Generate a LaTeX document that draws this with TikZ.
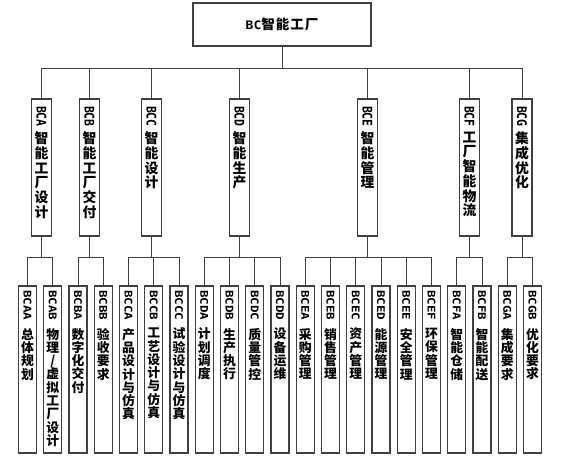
\documentclass[tikz,border=0pt]{standalone}
\usepackage{fontspec}
\usepackage{graphicx}
\newfontfamily\cjkf{Noto Sans CJK SC}
\newfontfamily\latf{DejaVu Sans Mono}
\definecolor{ln}{HTML}{404040}
\def\vcharsend{\vcharsend}
\def\vchars#1{\vcharsA#1\vcharsend}
\def\vcharsA#1{\ifx#1\vcharsend\else\hbox to\hsize{\hss#1\hss}\expandafter\vcharsA\fi}
\newcommand\vtA[2]{\parbox[c][137pt][t]{20pt}{\vspace*{7pt}%
\hbox to\hsize{\hss\rotatebox{-90}{\scalebox{1}[1.15]{\latf\bfseries\fontsize{11.5}{12}\selectfont #1}}\hss}%
\nointerlineskip\vskip 5pt\relax
\cjkf\bfseries\fontsize{13.8}{14.7}\selectfont\vchars{#2}}}
\newcommand\vtB[2]{\parbox[c][167pt][t]{18pt}{\vspace*{4pt}%
\hbox to\hsize{\hss\rotatebox{-90}{\scalebox{1}[0.85]{\latf\bfseries\fontsize{12.5}{13}\selectfont #1}}\hss}%
\nointerlineskip\vskip 8pt\relax
\cjkf\bfseries\fontsize{12.8}{13.3}\selectfont\vchars{#2}}}
\tikzset{
  box/.style={draw=ln, line width=1.2pt, fill=white, inner sep=0pt, outer sep=0pt},
  conn/.style={draw=ln, line width=0.9pt}
}
\begin{document}
\begin{tikzpicture}[x=1pt,y=-1pt]
\useasboundingbox (0,0) rectangle (563,459);
\node[box, minimum width=178pt, minimum height=43pt] (top) at (282,24.5)
  {\scalebox{1}[0.9]{\latf\bfseries\fontsize{13}{14}\selectfont BC}\cjkf\bfseries\fontsize{13.5}{15}\selectfont 智\kern1pt 能\kern1pt 工\kern1pt 厂};
% level 1
\node[box] (bca) at (41.5,167.5) {\vtA{BCA}{智能工厂设计}};
\node[box] (bcb) at (89.5,167.5) {\vtA{BCB}{智能工厂交付}};
\node[box] (bcc) at (151.5,167.5) {\vtA{BCC}{智能设计}};
\node[box] (bcd) at (239.5,167.5) {\vtA{BCD}{智能生产}};
\node[box] (bce) at (367.5,167.5) {\vtA{BCE}{智能管理}};
\node[box] (bcf) at (469.5,167.5) {\vtA{BCF}{工厂智能物流}};
\node[box] (bcg) at (522,167.5) {\vtA{BCG}{集成优化}};
% level 2
\node[box] (bcaa) at (27.5,369.5) {\vtB{BCAA}{总体规划}};
\node[box] (bcab) at (52.75,369.5) {\vtB{BCAB}{物理/虚拟工厂设计}};
\node[box] (bcba) at (78,369.5) {\vtB{BCBA}{数字化交付}};
\node[box] (bcbb) at (103.25,369.5) {\vtB{BCBB}{验收要求}};
\node[box] (bcca) at (128.5,369.5) {\vtB{BCCA}{产品设计与仿真}};
\node[box] (bccb) at (153.75,369.5) {\vtB{BCCB}{工艺设计与仿真}};
\node[box] (bccc) at (179,369.5) {\vtB{BCCC}{试验设计与仿真}};
\node[box] (bcda) at (204.25,369.5) {\vtB{BCDA}{计划调度}};
\node[box] (bcdb) at (229.5,369.5) {\vtB{BCDB}{生产执行}};
\node[box] (bcdc) at (254.75,369.5) {\vtB{BCDC}{质量管控}};
\node[box] (bcdd) at (280,369.5) {\vtB{BCDD}{设备运维}};
\node[box] (bcea) at (305.25,369.5) {\vtB{BCEA}{采购管理}};
\node[box] (bceb) at (330.5,369.5) {\vtB{BCEB}{销售管理}};
\node[box] (bcec) at (355.75,369.5) {\vtB{BCEC}{资产管理}};
\node[box] (bced) at (381,369.5) {\vtB{BCED}{能源管理}};
\node[box] (bcee) at (406.25,369.5) {\vtB{BCEE}{安全管理}};
\node[box] (bcef) at (431.5,369.5) {\vtB{BCEF}{环保管理}};
\node[box] (bcfa) at (456.75,369.5) {\vtB{BCFA}{智能仓储}};
\node[box] (bcfb) at (482,369.5) {\vtB{BCFB}{智能配送}};
\node[box] (bcga) at (507.25,369.5) {\vtB{BCGA}{集成要求}};
\node[box] (bcgb) at (532.5,369.5) {\vtB{BCGB}{优化要求}};
% connectors
\foreach \n in {bca,bcb,bcc,bcd,bce,bcf,bcg}
  \draw[conn] (top.south) -- ++(0,22.5) -| (\n.north);
\foreach \p/\c in {bca/bcaa,bca/bcab,bcb/bcba,bcb/bcbb,bcc/bcca,bcc/bccb,bcc/bccc,
  bcd/bcda,bcd/bcdb,bcd/bcdc,bcd/bcdd,bce/bcea,bce/bceb,bce/bcec,bce/bced,bce/bcee,bce/bcef,
  bcf/bcfa,bcf/bcfb,bcg/bcga,bcg/bcgb}
  \draw[conn] (\p.south) -- ++(0,21) -| (\c.north);
\end{tikzpicture}
\end{document}
